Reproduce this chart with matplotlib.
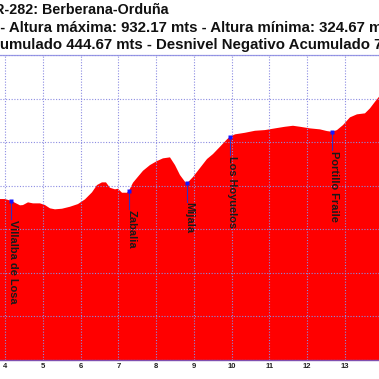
import matplotlib
matplotlib.use("Agg")
import matplotlib.pyplot as plt
import numpy as np

plt.rcParams['font.family'] = ['Liberation Sans', 'DejaVu Sans']

# Profile data (distance km, altitude m)
dist_km = [3.868, 4.000, 4.159, 4.265, 4.397, 4.476, 4.609, 4.741, 4.926, 5.059,
           5.191, 5.323, 5.509, 5.720, 5.932, 6.118, 6.303, 6.435, 6.567, 6.673,
           6.779, 6.912, 6.991, 7.097, 7.229, 7.282, 7.388, 7.520, 7.653, 7.838,
           8.023, 8.182, 8.367, 8.500, 8.632, 8.764, 8.817, 8.976, 9.161, 9.347,
           9.506, 9.691, 9.876, 9.956, 10.088, 10.353, 10.617, 10.882, 11.147, 11.411,
           11.623, 11.809, 12.073, 12.338, 12.523, 12.655, 12.788, 12.947, 13.132, 13.317,
           13.529, 13.661, 13.794, 13.900, 13.950]
alt_m = [669.4, 669.4, 665.5, 660.9, 655.0, 655.6, 661.8, 659.5, 659.5, 655.6,
         648.1, 645.8, 647.2, 651.7, 657.9, 668.7, 684.8, 701.5, 707.7, 707.7,
         695.3, 691.7, 693.0, 683.9, 683.9, 688.5, 706.8, 720.6, 734.3, 747.4,
         756.6, 762.8, 765.1, 747.4, 724.5, 709.1, 705.4, 719.9, 740.5, 761.2,
         772.7, 789.4, 806.4, 812.4, 817.9, 821.5, 826.1, 827.7, 831.6, 835.3,
         837.6, 835.3, 831.6, 829.3, 825.4, 823.8, 827.7, 839.2, 856.9, 863.8,
         866.1, 877.5, 892.7, 904.1, 912.0]

# Waypoints
wp_names = ["Villalba de Losa", "Zabalia", "Mijala", "Los Hoyuelos", "Portillo Fraile"]
wp_km = [4.159, 7.282, 8.817, 9.956, 12.655]
wp_alt = [665.5, 688.5, 705.4, 812.4, 823.8]

x_ticks = [4, 5, 6, 7, 8, 9, 10, 11, 12, 13]

title1 = "GR-282: Berberana-Orduña"
title2 = "Longitud: 15.32 km - Altura máxima: 932.17 mts - Altura mínima: 324.67 mts"
title2_suffix = "- Altura máxima: 932.17 mts - Altura mínima: 324.67 mts"
title3 = "Desnivel Positivo Acumulado 444.67 mts - Desnivel Negativo Acumulado 772.17 mts"
title3_suffix = "umulado 444.67 mts - Desnivel Negativo Acumulado 772.17 mts"

W = H = 379
fig = plt.figure(figsize=(3.79, 3.79), dpi=100)
ax = fig.add_axes([0, 19 / H, 1, 305 / H])

ax.fill_between(dist_km, alt_m, 300, color='#ff0000', lw=0, zorder=1)
ax.set_xlim(3.868, 13.90)
ax.set_ylim(300, 1000)
ax.set_yticks(np.arange(300, 1001, 100))
ax.set_xticks(x_ticks)
ax.set_xticklabels([str(t) for t in x_ticks], fontsize=5.5, fontweight='bold', color='#222222')
ax.tick_params(axis='x', length=0, pad=2.2)
ax.tick_params(axis='y', length=0, labelleft=False)
ax.set_axisbelow(False)
ax.grid(True, color='#8c8ce2', lw=0.8, linestyle=(0, (1, 1.5)))
for s in ['left', 'right']:
    ax.spines[s].set_visible(False)
ax.spines['top'].set_color('#9c9ce6')
ax.spines['top'].set_linewidth(0.9)
ax.spines['bottom'].set_color('#8050b0')
ax.spines['bottom'].set_linewidth(1.0)

# waypoint markers, stems and labels
for name, k, a in zip(wp_names, wp_km, wp_alt):
    ax.plot([k, k], [a - 42, a], color='#3030c0', lw=0.8, zorder=3)
    ax.annotate(name, xy=(k, a), xytext=(-2.5, -19), textcoords='offset pixels',
                rotation=270, ha='left', va='top', fontsize=7.9, fontweight='bold',
                color='#1a1a1a', zorder=4)
ax.plot(wp_km, wp_alt, 's', ms=2.6, color='#1515ff', mec='none', zorder=5)

# title lines
tkw = dict(fontweight='bold', color='#111111', va='baseline')
fig.text(168.5 / W, 1 - 14.5 / H, title1, ha='right', fontsize=10.3, **tkw)

fig.canvas.draw()
r = fig.canvas.get_renderer()


def place(full, suffix, x_px, y_px, size):
    t = fig.text(0, 1 - y_px / H, full, ha='left', fontsize=size, **tkw)
    tmp = fig.text(0, 0, suffix, ha='left', fontsize=size, **tkw)
    wf = t.get_window_extent(r).width
    ws = tmp.get_window_extent(r).width
    tmp.remove()
    t.set_x((x_px - (wf - ws)) / W)


place(title2, title2_suffix, 0.5, 32.3, 10.85)
place(title3, title3_suffix, 0.3, 49.5, 10.85)

fig.savefig("out.png", dpi=100)
